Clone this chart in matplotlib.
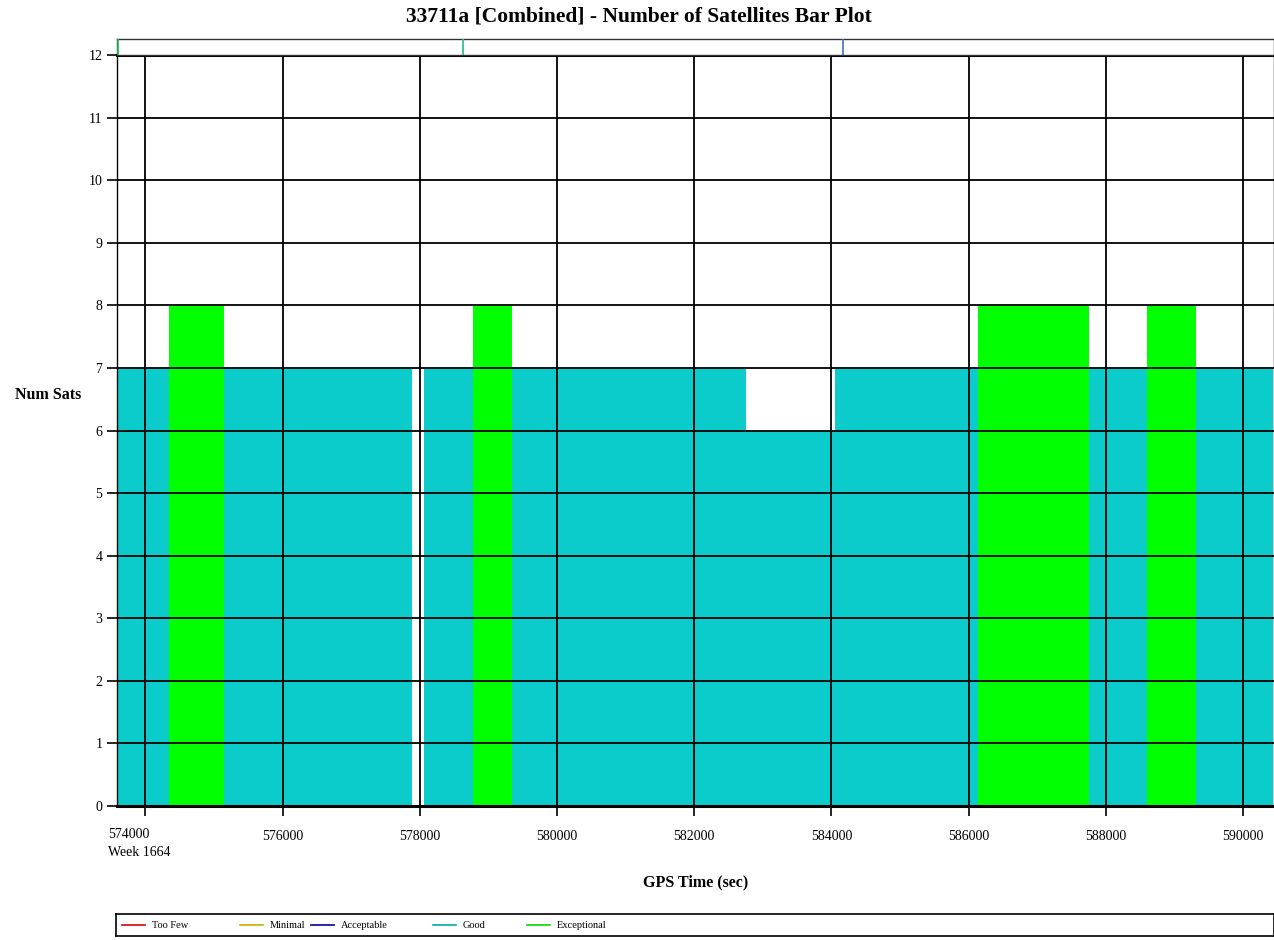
import matplotlib
matplotlib.use("Agg")
import matplotlib.pyplot as plt

plt.rcParams['font.family'] = ['Liberation Serif', 'DejaVu Serif']

# ---- data ----
seg_start = [573585, 574343, 575144, 578060, 578779, 579347, 582750, 584052, 586136, 587754, 588599, 589313]
seg_end   = [574343, 575144, 577889, 578779, 579347, 582750, 584052, 586136, 587754, 588599, 589313, 590445]
seg_sats  = [7, 8, 7, 7, 8, 7, 6, 7, 8, 7, 8, 7]
seg_qual  = ['Good', 'Exceptional', 'Good', 'Good', 'Exceptional', 'Good', 'Good', 'Good',
             'Exceptional', 'Good', 'Exceptional', 'Good']
marker_times = [573600, 578624, 584173]
marker_colors = ['#22BB55', '#22BB88', '#3377BB']
x_ticks = [574000, 576000, 578000, 580000, 582000, 584000, 586000, 588000, 590000]
y_ticks = list(range(0, 13))
legend_names = ['Too Few', 'Minimal', 'Acceptable', 'Good', 'Exceptional']
legend_colors = ['#DD0000', '#CCAA00', '#000099', '#00AAAA', '#00DD00']
fill_colors = {'Good': '#0BCBCB', 'Exceptional': '#00FF00'}

xmin, xmax = 573585, 590445

W, H = 1274, 940
fig = plt.figure(figsize=(W / 100, H / 100), dpi=100)

def rect(l, t, r, b):
    return [l / W, 1 - b / H, (r - l) / W, (b - t) / H]

ax = fig.add_axes(rect(117, 55, 1273.5, 806))
widths = [e - s for s, e in zip(seg_start, seg_end)]
cols = [fill_colors[q] for q in seg_qual]
ax.bar(seg_start, seg_sats, width=widths, align='edge', color=cols, linewidth=0, zorder=1)
ax.set_xlim(xmin, xmax)
ax.set_ylim(0, 12)
ax.set_xticks(x_ticks)
ax.set_xticklabels([''] + [str(t) for t in x_ticks[1:]])
ax.set_yticks(y_ticks)
ax.grid(True, color='black', linewidth=1.3, zorder=2)
ax.set_axisbelow(False)
ax.tick_params(axis='both', labelsize=10, length=7, width=1.2, color='black')
ax.tick_params(axis='x', pad=10)
for s in ['left', 'right']:
    ax.spines[s].set_linewidth(1.0)
for s in ['top', 'bottom']:
    ax.spines[s].set_linewidth(2.2)

# first tick label with week number, left-aligned as in the reference
px_sec = 16000 / 1097.5
ax.text(x_ticks[0] - 37.5 * px_sec, -0.60, f'{x_ticks[0]}\nWeek 1664', ha='left', va='center',
        fontsize=10, linespacing=1.45, transform=ax.transData, clip_on=False)
ax.set_xlabel('GPS Time (sec)', fontsize=11.5, fontweight='bold', labelpad=23)
fig.text(15 / W, 1 - 395 / H, 'Num Sats', fontsize=11.5, fontweight='bold', ha='left', va='center')
fig.text(639 / W, 1 - 16 / H, '33711a [Combined] - Number of Satellites Bar Plot',
         fontsize=15.5, fontweight='bold', ha='center', va='center')

# top marker strip
axt = fig.add_axes(rect(117, 39, 1273.5, 55))
axt.set_xlim(xmin, xmax)
axt.set_ylim(0, 1)
for s in axt.spines.values():
    s.set_linewidth(1.0)
    s.set_color('#333333')
axt.vlines(marker_times, 0, 1, colors=marker_colors, linewidth=1.2, zorder=5)
axt.set_xticks([])
axt.set_yticks([])

# legend box
axl = fig.add_axes(rect(116, 914, 1273.5, 936))
axl.set_xlim(116, 1273.5)
axl.set_ylim(0, 1)
axl.set_xticks([])
axl.set_yticks([])
for s in axl.spines.values():
    s.set_linewidth(1.2)
text_x = [152, 270, 341, 463, 557]
for tx, name, c in zip(text_x, legend_names, legend_colors):
    axl.plot([tx - 30, tx - 7], [0.5, 0.5], color=c, lw=1.2)
    axl.text(tx, 0.5, name, fontsize=7.5, ha='left', va='center')

fig.savefig('out.png', dpi=100)
